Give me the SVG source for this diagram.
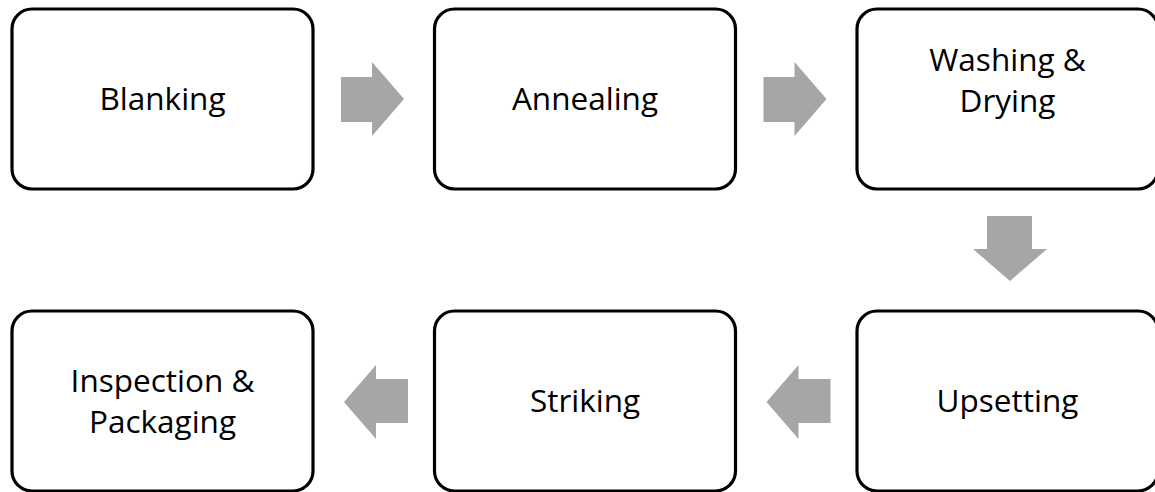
<svg xmlns="http://www.w3.org/2000/svg" width="1155" height="492" viewBox="0 0 1155 492">
<style>
.box{fill:#ffffff;stroke:#000000;stroke-width:3.2}
.lbl{font-family:"Open Sans","Liberation Sans",sans-serif;font-size:31.5px;fill:#000000;text-anchor:middle}
.arr{fill:#a6a6a6}
</style>
<rect width="1155" height="492" fill="#ffffff"/>
<g id="connectors">
<polygon class="arr" points="341,77 372,77 372,62 404,99 372,136 372,122 341,122"/>
<polygon class="arr" points="763.5,77 794.5,77 794.5,62 826.5,99 794.5,136 794.5,122 763.5,122"/>
<polygon class="arr" points="987,216 1032,216 1032,249 1047,249 1010,281 973,249 987,249"/>
<polygon class="arr" points="830.5,379 798.5,379 798.5,365 766.5,402 798.5,439 798.5,423 830.5,423"/>
<polygon class="arr" points="408,379 376,379 376,365 344,402 376,439 376,423 408,423"/>
</g>
<g id="blanking">
<rect class="box" x="12" y="9" width="301" height="180" rx="20"/>
<text class="lbl" x="162.5" y="110">Blanking</text>
</g>
<g id="annealing">
<rect class="box" x="434.5" y="9" width="301" height="180" rx="20"/>
<text class="lbl" x="585" y="110">Annealing</text>
</g>
<g id="washing">
<rect class="box" x="857" y="9" width="301" height="180" rx="20"/>
<text class="lbl" x="1007.5" y="71">Washing &amp;</text>
<text class="lbl" x="1007.5" y="112">Drying</text>
</g>
<g id="upsetting">
<rect class="box" x="857" y="311" width="301" height="180" rx="20"/>
<text class="lbl" x="1007.5" y="412">Upsetting</text>
</g>
<g id="striking">
<rect class="box" x="434.5" y="311" width="301" height="180" rx="20"/>
<text class="lbl" x="585" y="412">Striking</text>
</g>
<g id="inspection">
<rect class="box" x="12" y="311" width="301" height="180" rx="20"/>
<text class="lbl" x="162.5" y="392">Inspection &amp;</text>
<text class="lbl" x="162.5" y="433">Packaging</text>
</g>
</svg>
